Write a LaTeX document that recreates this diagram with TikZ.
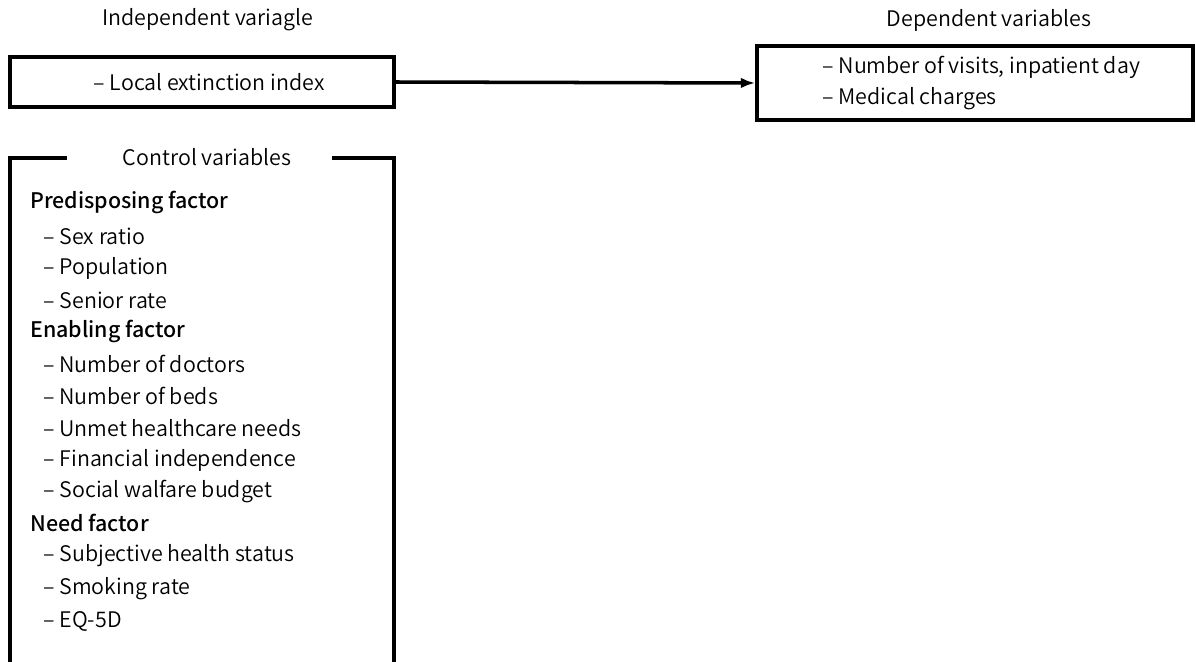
\documentclass[tikz,border=0pt]{standalone}
\usepackage{fontspec}
\setmainfont{Noto Sans CJK KR DemiLight}[BoldFont={Noto Sans CJK KR Medium}]
\usetikzlibrary{arrows.meta}

\tikzset{
    varbox/.style={draw, line width=2.3pt, inner sep=0pt},
    itemtext/.style={anchor=west, inner sep=0pt},
    headtext/.style={anchor=west, inner sep=0pt, font=\fontsize{12.2}{15}\selectfont\bfseries},
}

\begin{document}
\begin{tikzpicture}[x=0.02cm, y=-0.02cm, font=\fontsize{12.2}{15}\selectfont]

    \useasboundingbox (0,0) rectangle (1196,662);

    % Independent variable
    \node[] (indtitle) at (208,20) {Independent variagle};
    \node[varbox,
        minimum width=384*0.02cm,
        minimum height=50*0.02cm] (ind) at (202,82) {\hspace{8pt}– Local extinction index};

    % Dependent variables
    \node[] (deptitle) at (989,20) {Dependent variables};
    \node[varbox,
        minimum width=436*0.02cm,
        minimum height=74*0.02cm] (dep) at (975,83) {};
    \node[itemtext] (dep1) at (822,67) {– Number of visits, inpatient day};
    \node[itemtext] (dep2) at (822,99) {– Medical charges};

    \draw[line width=2pt, -{Latex[length=8pt,width=6pt]}] (ind.east) -- (dep.west);

    % Control variables (open at the bottom)
    \node[] (ctrltitle) at (207,157) {Control variables};
    \draw[line width=2.3pt] (67,158) -- (10,158) -- (10,664);
    \draw[line width=2.3pt] (332,158) -- (394,158) -- (394,664);

    \node[headtext] (pre) at (30,202) {Predisposing factor};
    \node[itemtext] (pre1) at (43,236) {– Sex ratio};
    \node[itemtext] (pre2) at (43,268) {– Population};
    \node[itemtext] (pre3) at (43,300) {– Senior rate};

    \node[headtext] (ena) at (30,331) {Enabling factor};
    \node[itemtext] (ena1) at (43,364) {– Number of doctors};
    \node[itemtext] (ena2) at (43,396) {– Number of beds};
    \node[itemtext] (ena3) at (43,428) {– Unmet healthcare needs};
    \node[itemtext] (ena4) at (43,460) {– Financial independence};
    \node[itemtext] (ena5) at (43,492) {– Social walfare budget};

    \node[headtext] (need) at (30,523) {Need factor};
    \node[itemtext] (need1) at (43,556) {– Subjective health status};
    \node[itemtext] (need2) at (43,589) {– Smoking rate};
    \node[itemtext] (need3) at (43,621) {– EQ-5D};

\end{tikzpicture}
\end{document}
